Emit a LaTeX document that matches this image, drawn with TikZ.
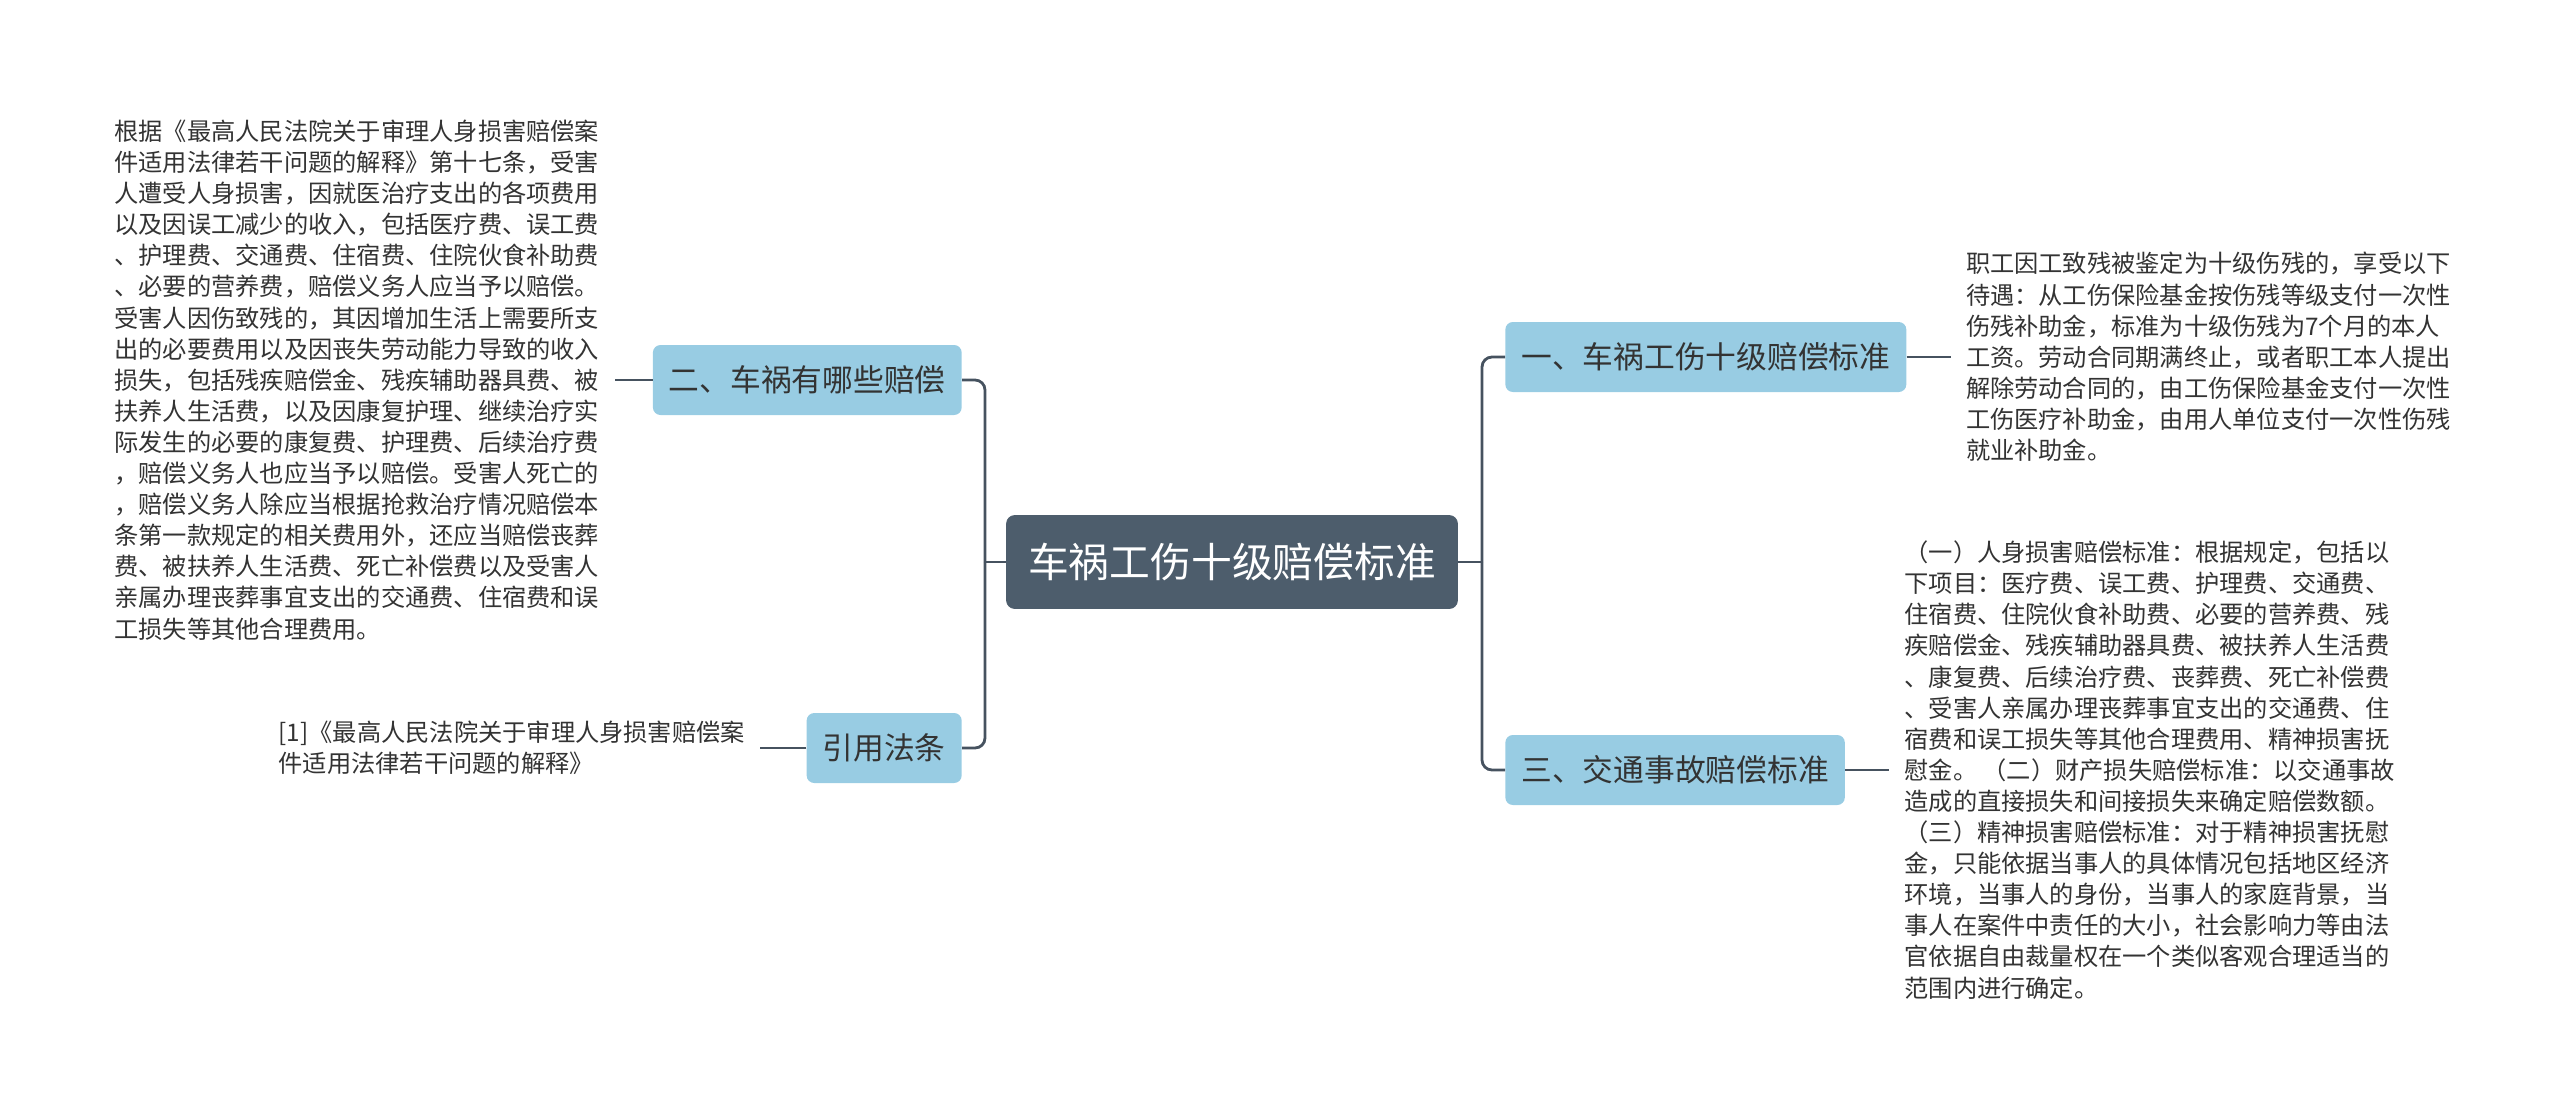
\documentclass[tikz,border=0pt]{standalone}
\usepackage{fontspec}
\setmainfont{Noto Sans CJK SC}
\usepackage{xcolor}
\definecolor{RootSlate}{HTML}{4D5D6C}
\definecolor{LinkSlate}{HTML}{46525F}
\definecolor{BranchBlue}{HTML}{98CCE3}
\definecolor{LeafGray}{HTML}{333333}
\usetikzlibrary{positioning}

\begin{document}
\begin{tikzpicture}[x=0.02cm, y=-0.02cm,
  root/.style={draw=RootSlate, fill=RootSlate, rounded corners=.16cm, text=white, minimum width=9.02cm, minimum height=1.86cm, font=\fontsize{23.2}{27}\selectfont},
  branch/.style={fill=BranchBlue, rounded corners=.15cm, text=LeafGray, inner xsep=.32cm, minimum height=1.4cm, font=\fontsize{17.5}{21}\selectfont},
  leaf/.style={align=left, inner xsep=.3cm, inner ysep=0pt, text=LeafGray, font=\fontsize{13.8}{17.7}\selectfont},
  link/.style={draw=LinkSlate, line width=1.6pt, rounded corners=.2cm}]
  \useasboundingbox (0,0) rectangle (2560,1117);

  % centre and first level
  \node[root] (root) at (1232,562) {车祸工伤十级赔偿标准};
  \node[branch, anchor=east] (harm) at (962,380) {二、车祸有哪些赔偿};
  \node[branch, anchor=east] (cite) at (962,748) {引用法条};
  \node[branch, anchor=west] (tenth) at (1505,357) {一、车祸工伤十级赔偿标准};
  \node[branch, anchor=west] (traffic) at (1505,770) {三、交通事故赔偿标准};

  % leaves
  \node[leaf, left=.76cm of harm] (harmtext) {根据《最高人民法院关于审理人身损害赔偿案\\
    件适用法律若干问题的解释》第十七条，受害\\
    人遭受人身损害，因就医治疗支出的各项费用\\
    以及因误工减少的收入，包括医疗费、误工费\\
    、护理费、交通费、住宿费、住院伙食补助费\\
    、必要的营养费，赔偿义务人应当予以赔偿。\\
    受害人因伤致残的，其因增加生活上需要所支\\
    出的必要费用以及因丧失劳动能力导致的收入\\
    损失，包括残疾赔偿金、残疾辅助器具费、被\\
    扶养人生活费，以及因康复护理、继续治疗实\\
    际发生的必要的康复费、护理费、后续治疗费\\
    ，赔偿义务人也应当予以赔偿。受害人死亡的\\
    ，赔偿义务人除应当根据抢救治疗情况赔偿本\\
    条第一款规定的相关费用外，还应当赔偿丧葬\\
    费、被扶养人生活费、死亡补偿费以及受害人\\
    亲属办理丧葬事宜支出的交通费、住宿费和误\\
    工损失等其他合理费用。};
  \node[leaf, left=.92cm of cite] (citetext) {[1]《最高人民法院关于审理人身损害赔偿案\\
    件适用法律若干问题的解释》};
  \node[leaf, right=.88cm of tenth] (tenthtext) {职工因工致残被鉴定为十级伤残的，享受以下\\
    待遇：从工伤保险基金按伤残等级支付一次性\\
    伤残补助金，标准为十级伤残为7个月的本人\\
    工资。劳动合同期满终止，或者职工本人提出\\
    解除劳动合同的，由工伤保险基金支付一次性\\
    工伤医疗补助金，由用人单位支付一次性伤残\\
    就业补助金。};
  \node[leaf, right=.88cm of traffic] (traffictext) {（一）人身损害赔偿标准：根据规定，包括以\\
    下项目：医疗费、误工费、护理费、交通费、\\
    住宿费、住院伙食补助费、必要的营养费、残\\
    疾赔偿金、残疾辅助器具费、被扶养人生活费\\
    、康复费、后续治疗费、丧葬费、死亡补偿费\\
    、受害人亲属办理丧葬事宜支出的交通费、住\\
    宿费和误工损失等其他合理费用、精神损害抚\\
    慰金。 （二）财产损失赔偿标准：以交通事故\\
    造成的直接损失和间接损失来确定赔偿数额。\\
    （三）精神损害赔偿标准：对于精神损害抚慰\\
    金，只能依据当事人的具体情况包括地区经济\\
    环境，当事人的身份，当事人的家庭背景，当\\
    事人在案件中责任的大小，社会影响力等由法\\
    官依据自由裁量权在一个类似客观合理适当的\\
    范围内进行确定。};

  % connectors
  \coordinate (ljoin) at (985,562);
  \coordinate (rjoin) at (1482,562);
  \draw[link] (root.west) -- (ljoin);
  \draw[link] (root.east) -- (rjoin);
  \draw[link] (ljoin) |- (harm.east);
  \draw[link] (ljoin) |- (cite.east);
  \draw[link] (rjoin) |- (tenth.west);
  \draw[link] (rjoin) |- (traffic.west);
  \draw[link] (harm.west) -- (harmtext.east);
  \draw[link] (cite.west) -- (citetext.east);
  \draw[link] (tenth.east) -- (tenthtext.west);
  \draw[link] (traffic.east) -- (traffictext.west);
\end{tikzpicture}
\end{document}
